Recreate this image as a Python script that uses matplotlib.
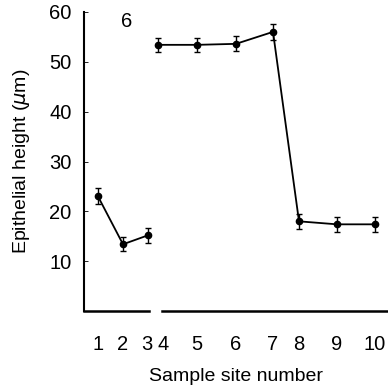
import matplotlib
matplotlib.use("Agg")
import matplotlib.pyplot as plt

# sample sites (irregular spacing along the tract)
site_labels = ["1", "2", "3", "4", "5", "6", "7", "8", "9", "10"]
site_pos = [1.0, 2.0, 3.0, 3.4, 4.96, 6.52, 8.0, 9.04, 10.56, 12.08]
height = [23.0, 13.4, 15.2, 53.4, 53.4, 53.6, 56.0, 18.0, 17.4, 17.4]
height_err = [1.6, 1.4, 1.5, 1.4, 1.4, 1.5, 1.6, 1.5, 1.5, 1.5]

plt.rcParams["font.family"] = ["Liberation Sans", "DejaVu Sans"]

fig = plt.figure(figsize=(3.88, 3.85), dpi=100)
ax = fig.add_axes([0.2165, 0.192, 0.7835, 0.777])

# first segment (sites 1-3) and second segment (sites 4-10) drawn separately
ax.errorbar(site_pos[:3], height[:3], yerr=height_err[:3], fmt="o-", color="black",
            ms=4.5, lw=1.3, elinewidth=1.0, capsize=2.5, capthick=1.0)
ax.errorbar(site_pos[3:], height[3:], yerr=height_err[3:], fmt="o-", color="black",
            ms=4.5, lw=1.3, elinewidth=1.0, capsize=2.5, capthick=1.0)

ax.set_xlim(0.44, 12.6)
ax.set_ylim(0, 60)

ax.spines["top"].set_visible(False)
ax.spines["right"].set_visible(False)
ax.spines["bottom"].set_visible(False)
ax.spines["left"].set_linewidth(1.5)

# broken x axis
ax.plot([0, 0.214], [0, 0], transform=ax.transAxes, color="black", lw=1.8, clip_on=False)
ax.plot([0.257, 1.0], [0, 0], transform=ax.transAxes, color="black", lw=1.8, clip_on=False)

ax.set_yticks([10, 20, 30, 40, 50, 60])
ax.tick_params(axis="y", direction="in", length=3, width=0.6, pad=9, labelsize=14.5)

# tick marks at the sites (none beside the break), labels spread where 3 and 4 crowd
label_pos = list(site_pos)
label_pos[2] -= 0.04
label_pos[3] += 0.2
ax.set_xticks(site_pos[:2] + site_pos[4:], minor=True)
ax.set_xticks(label_pos)
ax.set_xticklabels(site_labels)
ax.tick_params(axis="x", which="minor", direction="in", length=5, width=0.6)
ax.tick_params(axis="x", which="major", length=0, pad=17, labelsize=14.5)

ax.set_xlabel("Sample site number", fontsize=14, labelpad=10)
ax.set_ylabel("Epithelial height ($\\mu$m)", fontsize=14, labelpad=12)
ax.text(2.16, 58.0, "6", fontsize=14.5, ha="center", va="center")

fig.savefig("out.png", dpi=100)
